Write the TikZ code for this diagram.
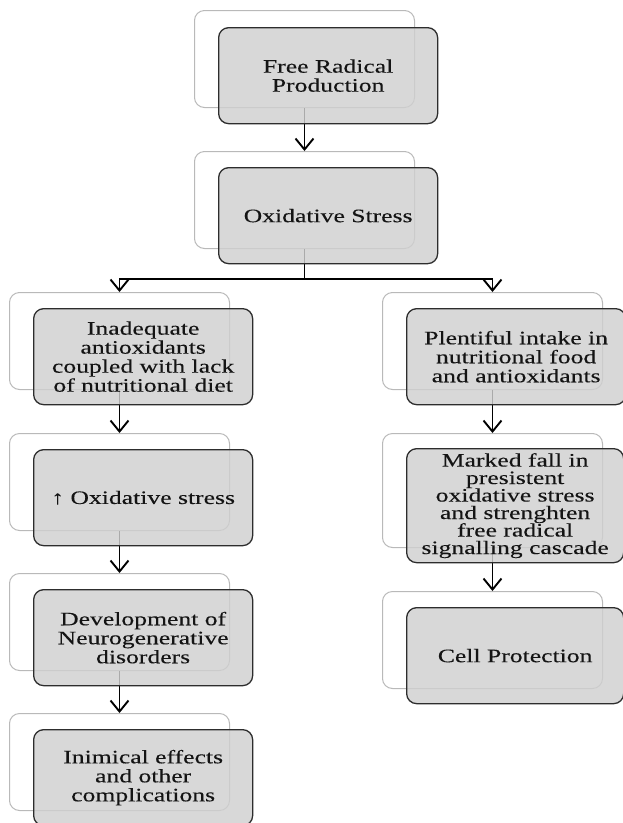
\documentclass[tikz,border=0pt]{standalone}
\usepackage{fontspec}
\setmainfont{Liberation Serif}[FakeStretch=1.35,FakeBold=0.12]
\usetikzlibrary{arrows.meta}
\definecolor{frontfill}{RGB}{208,208,208}
\definecolor{frontline}{RGB}{45,45,45}
\definecolor{backline}{RGB}{185,185,185}
\definecolor{txt}{RGB}{20,20,20}
\begin{document}
\begin{tikzpicture}[x=1pt,y=1pt,
  backbox/.style={draw=backline, line width=1pt, rounded corners=10pt, anchor=north west,
    inner sep=0pt, minimum width=220pt, minimum height=97pt},
  frontbox/.style={draw=frontline, fill=frontfill, fill opacity=0.82, text opacity=1,
    line width=1.3pt, rounded corners=10pt, anchor=north west, inner sep=0pt,
    minimum width=219pt, minimum height=96pt, align=center, text=txt,
    font=\fontsize{19}{19}\selectfont},
  conn/.style={-{Straight Barb[length=11pt,width=18pt]}, line width=1.9pt, black},
  plain/.style={line width=1.9pt, black}]
\useasboundingbox (0,0) rectangle (623,-823);
\fill[white] (0,0) rectangle (623,-823);
% back boxes
\node[backbox] (b1) at (194,-10) {};
\node[backbox] (b2) at (194,-151) {};
\node[backbox] (l1) at (9,-292) {};
\node[backbox] (l2) at (9,-433) {};
\node[backbox] (l3) at (9,-573) {};
\node[backbox] (l4) at (9,-713) {};
\node[backbox] (r1) at (382,-292) {};
\node[backbox, minimum height=114pt] (r2) at (382,-433) {};
\node[backbox] (r3) at (382,-591) {};
% connectors
\draw[conn] (b1.south) -- (b2.north);
\draw[plain] (b2.south) -- ++(0,-30) coordinate (bj);
\draw[conn] (bj) -| (l1.north);
\draw[conn] (bj) -| (r1.north);
\draw[conn] (l1.south) -- (l2.north);
\draw[conn] (l2.south) -- (l3.north);
\draw[conn] (l3.south) -- (l4.north);
\draw[conn] (r1.south) -- (r2.north);
\draw[conn] (r2.south) -- (r3.north);
% front boxes
\node[frontbox] (f1) at (218,-27) {Free Radical\\Production};
\node[frontbox] (f2) at (218,-167) {Oxidative Stress};
\node[frontbox] (fl1) at (33,-308) {Inadequate\\antioxidants\\coupled with lack\\of nutritional diet};
\node[frontbox] (fl2) at (33,-449) {↑ Oxidative stress};
\node[frontbox] (fl3) at (33,-589) {Development of\\Neurogenerative\\disorders};
\node[frontbox] (fl4) at (33,-729) {Inimical effects\\and other\\complications};
\node[frontbox] (fr1) at (406,-308) {Plentiful intake in\\nutritional food\\and antioxidants};
\node[frontbox, minimum width=217pt, minimum height=114pt, font=\fontsize{19}{17.5}\selectfont] (fr2) at (406,-448) {Marked fall in\\presistent\\oxidative stress\\and strenghten\\free radical\\signalling cascade};
\node[frontbox, minimum width=217pt] (fr3) at (406,-607) {Cell Protection};
\end{tikzpicture}
\end{document}
